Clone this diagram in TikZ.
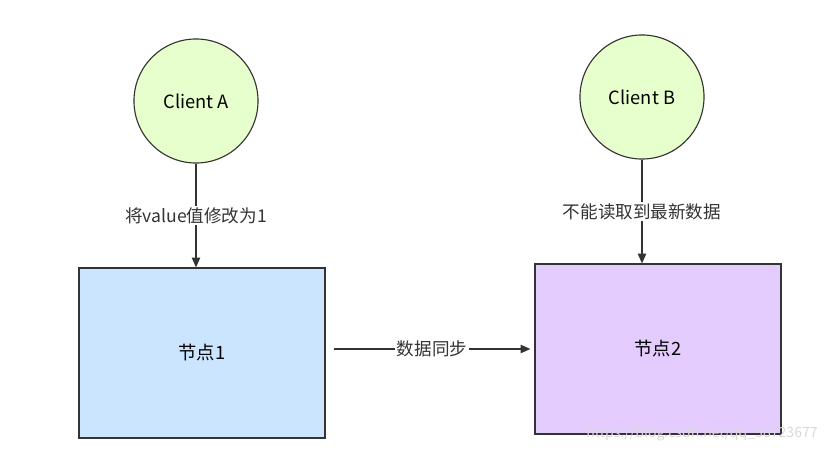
\documentclass[tikz,border=0pt]{standalone}
\usepackage{fontspec}
\setmainfont{Noto Sans CJK SC}
\usetikzlibrary{arrows.meta}
\definecolor{clientfill}{HTML}{E6FFCC}
\definecolor{blockA}{HTML}{CCE5FF}
\definecolor{blockB}{HTML}{E5CCFF}
\definecolor{edge}{HTML}{333333}

\begin{document}
\begin{tikzpicture}[x=0.025cm, y=-0.025cm,
    client/.style={draw=edge, thick, circle, fill=clientfill, minimum size=3.1cm, font=\fontsize{13}{15}\selectfont},
    block/.style={draw=edge, thick, minimum width=6.15cm, minimum height=4.25cm, font=\fontsize{13}{15}\selectfont},
    link/.style={draw=edge, thick, -{Triangle[length=7pt,width=6pt]}},
    lbl/.style={fill=white, inner sep=1pt, font=\fontsize{12.5}{14}\selectfont, text=edge}]
    \useasboundingbox (0,0) rectangle (834,452);

        \node[client] (ca)at(196,101) {Client A};
        \node[client] (cb)at(642,97) {Client B};

        \node[block, fill=blockA] (n1)at(202,353) {节点1};
        \node[block, fill=blockB] (n2)at(658,349) {节点2};

        \draw[link] (ca) -- (n1.north -| ca) node[lbl, pos=0.5] {将value值修改为1};
        \draw[link] (cb) -- (n2.north -| cb) node[lbl, pos=0.5] {不能读取到最新数据};
        \draw[link] ([xshift=0.2cm]n1.east |- 0,349) -- ([xshift=-0.1cm]n2.west |- 0,349) node[lbl, pos=0.5] {数据同步};

        \node[draw=none, text=gray!30, font=\fontsize{10}{12}\selectfont] (wm)at(702,434) {https://blog.csdn.net/qq\_38723677};

\end{tikzpicture}
\end{document}
